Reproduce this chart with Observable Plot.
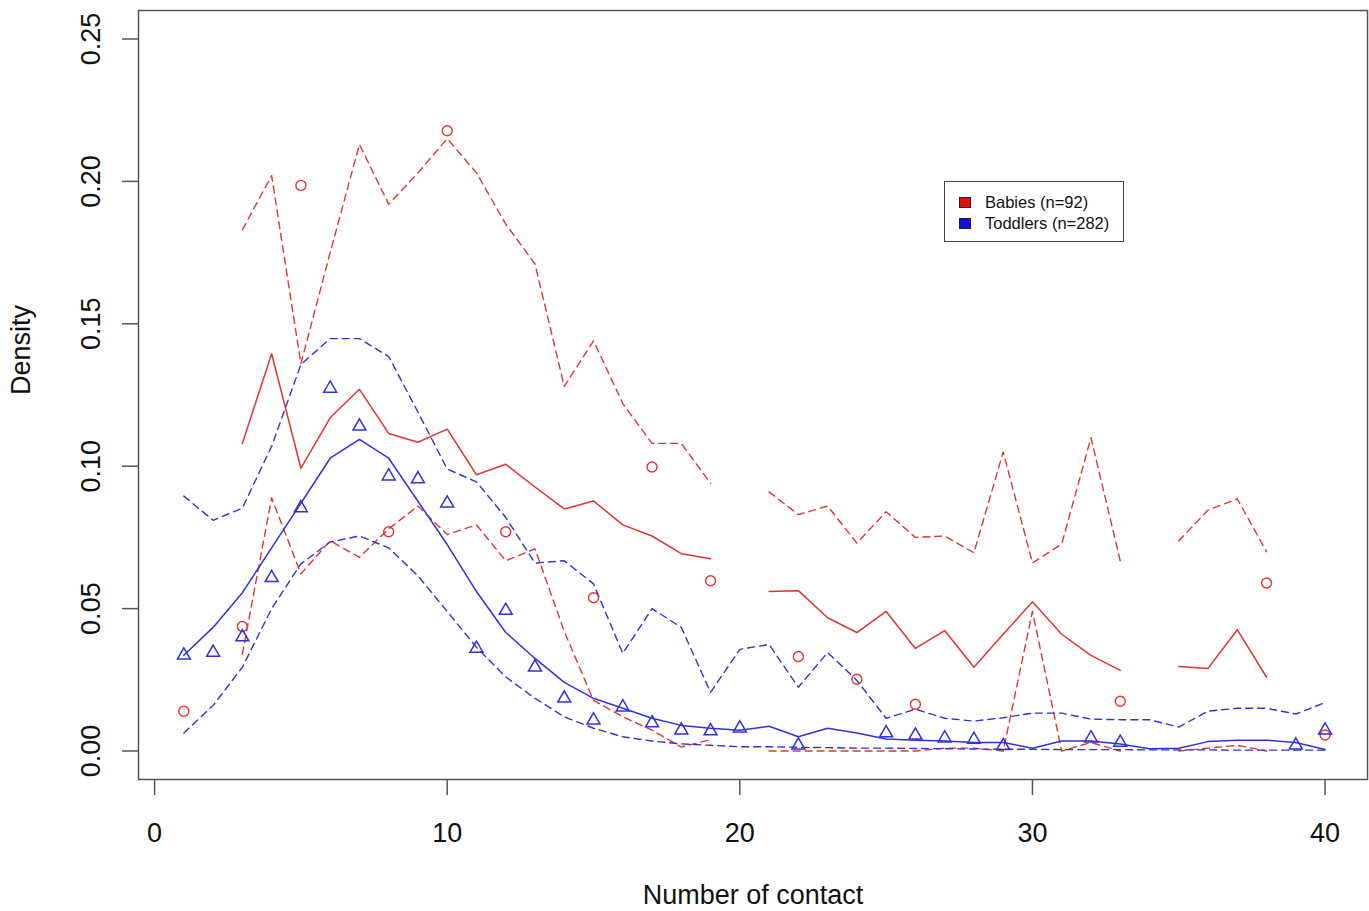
<!DOCTYPE html>
<html><head><meta charset="utf-8">
<script src="https://cdn.jsdelivr.net/npm/d3@7"></script>
<script src="https://cdn.jsdelivr.net/npm/@observablehq/plot@0.6"></script>
<style>
body{margin:0;background:#fff;font-family:"Liberation Sans",Arial,sans-serif;}
#wrap{position:relative;width:1369px;height:911px;}
#legend{position:absolute;left:944px;top:181px;width:180px;height:61px;border:1px solid #444;box-sizing:border-box;background:#fff;font-size:16.5px;color:#111;}
.row{position:absolute;left:0;height:20px;display:flex;align-items:center;}
.sw{width:12px;height:11px;border:1px solid #222;margin-left:14px;margin-right:14px;box-sizing:border-box;}
</style></head>
<body>
<div id="wrap"></div>
<script>
const contacts = d3.range(1, 41);
const xTicks = [0, 10, 20, 30, 40];
const yTicks = [0, 0.05, 0.10, 0.15, 0.20, 0.25];
const legendLabels = ["Babies (n=92)", "Toddlers (n=282)"];
const N = null;

// Babies (n=92)
const babiesUpper = [N,N,0.183,0.202,0.136,0.175,0.213,0.192,0.203,0.215,0.203,0.185,0.171,0.128,0.144,0.122,0.108,0.108,0.094,N,
  0.091,0.083,0.086,0.073,0.084,0.075,0.0755,0.0696,0.105,0.066,0.0727,0.110,0.0668,N,0.0738,0.0846,0.0885,0.070,N,N];
const babiesMean = [N,N,0.108,0.1395,0.0993,0.117,0.127,0.1115,0.1084,0.113,0.097,0.1007,0.0927,0.085,0.0878,0.0794,0.0755,0.0693,0.0675,N,
  0.056,0.0563,0.0468,0.0416,0.049,0.036,0.0423,0.0294,0.041,0.0524,0.041,0.0336,0.0283,N,0.0297,0.029,0.0426,0.0259,N,N];
const babiesLower = [N,N,0.034,0.0889,0.0622,0.0738,0.068,0.078,0.086,0.076,0.0794,0.0668,0.071,0.042,0.0178,0.012,0.0073,0.0014,0.004,N,
  0,0,0,0,0,0,0.001,0.001,0,0.049,0,0.003,0,N,0,0.001,0.002,0,N,N];
const babiesObs = [0.014,N,0.0437,N,0.1986,N,N,0.077,N,0.2178,N,0.077,N,N,0.0538,N,0.0997,N,0.0598,N,
  N,0.0332,N,0.0252,N,0.0164,N,N,N,N,N,N,0.0175,N,N,N,N,0.059,N,0.0056];

// Toddlers (n=282)
const toddUpper = [0.0895,0.081,0.0853,0.107,0.1357,0.1448,0.1448,0.1385,0.119,0.099,0.0945,0.082,0.066,0.0668,0.0587,0.0343,0.05,0.0434,0.0206,0.0357,
  0.0374,0.0224,0.0346,0.0248,0.0115,0.0147,0.0115,0.0105,0.0117,0.0133,0.0133,0.0112,0.011,0.011,0.0084,0.014,0.015,0.015,0.013,0.017];
const toddMean = [0.0336,0.0434,0.0556,0.0713,0.087,0.1028,0.1094,0.1028,0.0877,0.0725,0.056,0.0416,0.0325,0.0241,0.0185,0.015,0.0115,0.009,0.008,0.0073,
  0.0087,0.005,0.008,0.0063,0.0042,0.0038,0.0035,0.003,0.003,0.001,0.0035,0.0035,0.0025,0.0008,0.001,0.0033,0.0038,0.0038,0.003,0.0005];
const toddLower = [0.0063,0.016,0.0294,0.050,0.0657,0.0734,0.0755,0.0713,0.0615,0.049,0.0364,0.026,0.0185,0.012,0.008,0.005,0.0035,0.0025,0.002,0.0015,
  0.0015,0.0013,0.0012,0.001,0.001,0.0009,0.0008,0.0007,0.0006,0.0006,0.0005,0.0005,0.0005,0.0004,0.0004,0.0004,0.0003,0.0003,0.0003,0.0003];
const toddObs = [0.0336,0.0346,0.040,0.0608,0.0853,0.1273,0.114,0.0965,0.0955,0.087,0.036,0.0493,0.0294,0.0185,0.0108,0.0154,0.0098,0.0073,0.007,0.008,
  N,0.002,N,N,0.0063,0.0055,0.0045,0.004,0.0018,N,N,0.0045,0.003,N,N,N,N,N,0.002,0.0073];

const RED = "#e23434", BLUE = "#3232d8";
const toRows = vals => contacts.map((x, i) => ({x, y: vals[i] == null ? NaN : vals[i]}));
const toPts = vals => contacts.map((x, i) => ({x, y: vals[i]})).filter(d => d.y != null);

const dash = "7,5";
const chart = Plot.plot({
  width: 1369, height: 911,
  marginLeft: 138, marginRight: 2, marginTop: 10, marginBottom: 132,
  x: {domain: [-0.55, 41.45]},
  y: {domain: [-0.01, 0.26]},
  style: {fontFamily: "'Liberation Sans', Arial, sans-serif", fontSize: "27px", color: "#111", background: "#fff"},
  marks: [
    Plot.frame({stroke: "#555", strokeWidth: 1.5}),
    Plot.axisX({ticks: xTicks, tickSize: 16, tickPadding: 27, label: null, stroke: "#555", strokeWidth: 1.5, fontSize: 27}),
    Plot.axisY({ticks: yTicks, tickSize: 16, tickPadding: 23, tickRotate: -90, tickFormat: d3.format(".2f"), label: null, stroke: "#555", strokeWidth: 1.5, fontSize: 27}),
    Plot.text(["Number of contact"], {text: d => d, frameAnchor: "bottom", dy: 124, lineAnchor: "bottom", fontSize: 27, fill: "#111"}),
    Plot.text(["Density"], {text: d => d, frameAnchor: "left", dx: -128, rotate: -90, lineAnchor: "top", fontSize: 27, fill: "#111"}),
    Plot.line(toRows(babiesUpper), {x: "x", y: "y", stroke: RED, strokeWidth: 1.4, strokeDasharray: dash}),
    Plot.line(toRows(babiesLower), {x: "x", y: "y", stroke: RED, strokeWidth: 1.4, strokeDasharray: dash}),
    Plot.line(toRows(babiesMean), {x: "x", y: "y", stroke: RED, strokeWidth: 1.5}),
    Plot.line(toRows(toddUpper), {x: "x", y: "y", stroke: BLUE, strokeWidth: 1.4, strokeDasharray: dash}),
    Plot.line(toRows(toddLower), {x: "x", y: "y", stroke: BLUE, strokeWidth: 1.4, strokeDasharray: dash}),
    Plot.line(toRows(toddMean), {x: "x", y: "y", stroke: BLUE, strokeWidth: 1.5}),
    Plot.dot(toPts(babiesObs), {x: "x", y: "y", r: 5, stroke: RED, strokeWidth: 1.4, fill: "none"}),
    Plot.dot(toPts(toddObs), {x: "x", y: "y", r: 4.8, symbol: "triangle", stroke: BLUE, strokeWidth: 1.5, fill: "none"})
  ]
});
const wrap = document.getElementById("wrap");
wrap.appendChild(chart);

const legend = document.createElement("div");
legend.id = "legend";
const colors = ["#e01010", "#1010e0"];
legendLabels.forEach((lab, i) => {
  const row = document.createElement("div");
  row.className = "row";
  row.style.top = (10 + i * 21) + "px";
  const sw = document.createElement("div");
  sw.className = "sw";
  sw.style.background = colors[i];
  const t = document.createElement("span");
  t.textContent = lab;
  row.appendChild(sw); row.appendChild(t);
  legend.appendChild(row);
});
wrap.appendChild(legend);
</script>
</body></html>
